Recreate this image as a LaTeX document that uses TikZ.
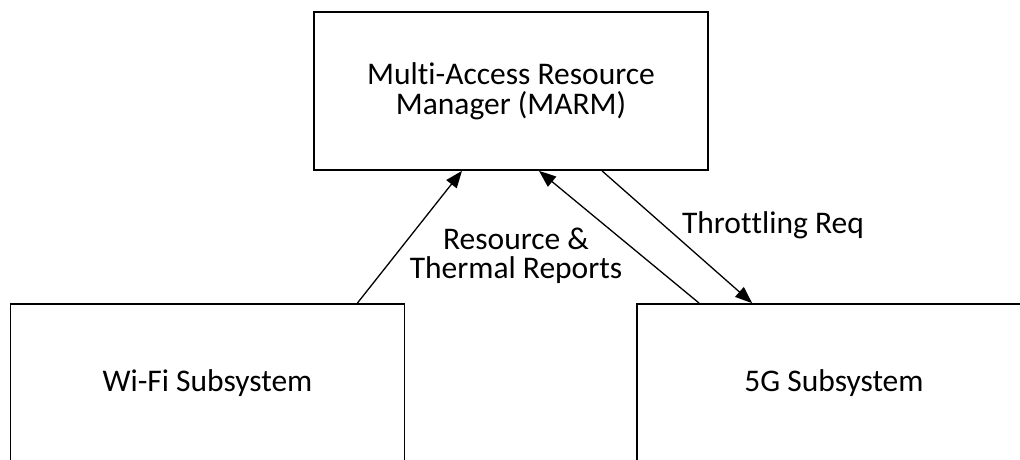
\documentclass[tikz,border=0pt]{standalone}
\usepackage{fontspec}
\setmainfont[RawFeature={-liga;-clig;-dlig;-calt}]{Carlito}
\usetikzlibrary{arrows.meta,calc}
\begin{document}
\begin{tikzpicture}[x=1pt,y=-1pt,
  box/.style={draw=black,line width=1.7pt,minimum width=394pt,minimum height=158pt,
    align=center,inner sep=0pt,font=\fontsize{31.5}{30}\selectfont},
  lbl/.style={align=center,inner sep=0pt,font=\fontsize{31.5}{29}\selectfont},
  conn/.style={line width=1.3pt,-{Triangle[length=17pt,width=13pt]}}]
\useasboundingbox (0,0) rectangle (1020,459);
\node[box] (marm) at (511,91) {Mult\kern0pt i-Access Resource\\Manager (MARM)};
\node[box] (wifi) at (207.5,383) {Wi-Fi Subsystem};
\node[box] (fiveg) at (834,383) {5G Subsystem};
\draw[conn] ($(wifi.north east)+(-48,0)$) -- ($(marm.south)+(-49,0)$);
\draw[conn] ($(fiveg.north west)+(63,0)$) -- ($(marm.south)+(28,0)$);
\draw[conn] ($(marm.south)+(91,0)$) -- ($(fiveg.north west)+(116,0)$);
\node[lbl] (lblres) at (516,256) {Resource \&\\Thermal Reports};
\node[lbl] (lblthr) at (773,225) {Throt\kern0pt t\kern0pt ling Req};
\end{tikzpicture}
\end{document}
